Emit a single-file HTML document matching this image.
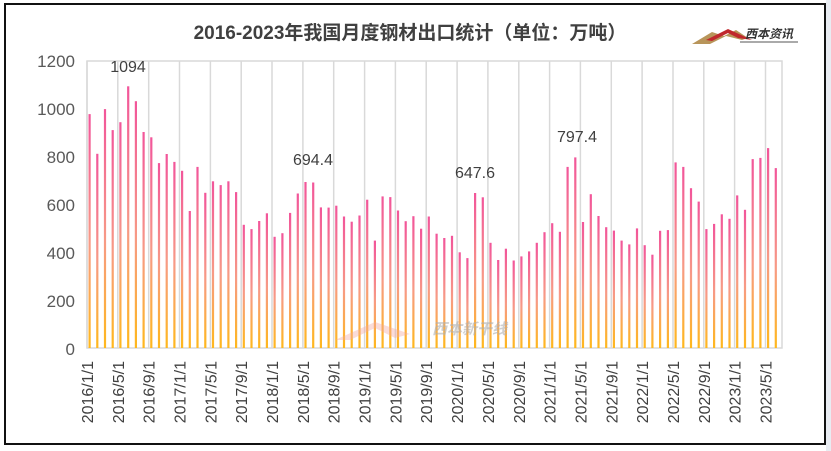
<!DOCTYPE html>
<html><head><meta charset="utf-8"><style>
html,body{margin:0;padding:0;background:#fff;}
svg{display:block;}
</style></head><body>
<svg width="831" height="451" viewBox="0 0 831 451" xmlns="http://www.w3.org/2000/svg" font-family="Liberation Sans, Noto Sans CJK SC, sans-serif">
<defs>
<linearGradient id="g" x1="0" y1="0" x2="0" y2="1">
<stop offset="0" stop-color="#f2559a"/>
<stop offset="0.55" stop-color="#f79a86"/>
<stop offset="1" stop-color="#ffb81c"/>
</linearGradient>
</defs>
<rect x="0" y="0" width="831" height="451" fill="#fff"/>
<rect x="826" y="0" width="5" height="451" fill="#e8ecf2"/>
<rect x="5" y="4" width="820" height="440" fill="#fff" stroke="#111" stroke-width="2"/>
<text x="410" y="39" text-anchor="middle" font-size="19" font-weight="bold" fill="#404040">2016-2023年我国月度钢材出口统计（单位：万吨）</text>
<g>
<polygon points="692,44 712,32 724,36 736,30 748,38 742,40 726,36 710,44" fill="#b8955a"/>
<polygon points="706,40 728,29 752,40 738,38 728,33 712,41" fill="#c0282d"/>
<text x="745" y="38" font-size="12" font-weight="bold" font-style="italic" fill="#333">西本资讯</text>
<line x1="740" y1="42" x2="798" y2="42" stroke="#555" stroke-width="1"/>
</g>
<g stroke="#d9d9d9" stroke-width="1.5">
<line x1="87" y1="61" x2="87" y2="348"/><line x1="117.8" y1="61" x2="117.8" y2="348"/><line x1="148.7" y1="61" x2="148.7" y2="348"/><line x1="179.5" y1="61" x2="179.5" y2="348"/><line x1="210.4" y1="61" x2="210.4" y2="348"/><line x1="241.2" y1="61" x2="241.2" y2="348"/><line x1="272" y1="61" x2="272" y2="348"/><line x1="302.9" y1="61" x2="302.9" y2="348"/><line x1="333.7" y1="61" x2="333.7" y2="348"/><line x1="364.6" y1="61" x2="364.6" y2="348"/><line x1="395.4" y1="61" x2="395.4" y2="348"/><line x1="426.2" y1="61" x2="426.2" y2="348"/><line x1="457.1" y1="61" x2="457.1" y2="348"/><line x1="487.9" y1="61" x2="487.9" y2="348"/><line x1="518.8" y1="61" x2="518.8" y2="348"/><line x1="549.6" y1="61" x2="549.6" y2="348"/><line x1="580.4" y1="61" x2="580.4" y2="348"/><line x1="611.3" y1="61" x2="611.3" y2="348"/><line x1="642.1" y1="61" x2="642.1" y2="348"/><line x1="673" y1="61" x2="673" y2="348"/><line x1="703.8" y1="61" x2="703.8" y2="348"/><line x1="734.6" y1="61" x2="734.6" y2="348"/><line x1="765.5" y1="61" x2="765.5" y2="348"/>
<rect x="87" y="61" width="695" height="287" fill="none"/>
</g>
<g fill="url(#g)">
<rect x="88.5" y="114.1" width="2.2" height="233.9"/>
<rect x="96.2" y="153.8" width="2.2" height="194.2"/>
<rect x="103.9" y="109.1" width="2.2" height="238.9"/>
<rect x="111.6" y="130.1" width="2.2" height="217.9"/>
<rect x="119.3" y="122.2" width="2.2" height="225.8"/>
<rect x="127.1" y="86.3" width="2.2" height="261.7"/>
<rect x="134.8" y="101.2" width="2.2" height="246.8"/>
<rect x="142.5" y="132" width="2.2" height="216"/>
<rect x="150.2" y="137.3" width="2.2" height="210.7"/>
<rect x="157.9" y="163.1" width="2.2" height="184.9"/>
<rect x="165.6" y="154" width="2.2" height="194"/>
<rect x="173.3" y="161.9" width="2.2" height="186.1"/>
<rect x="181" y="170.8" width="2.2" height="177.2"/>
<rect x="188.7" y="211" width="2.2" height="137"/>
<rect x="196.4" y="166.9" width="2.2" height="181.1"/>
<rect x="204.2" y="192.8" width="2.2" height="155.2"/>
<rect x="211.9" y="181.3" width="2.2" height="166.7"/>
<rect x="219.6" y="185.1" width="2.2" height="162.9"/>
<rect x="227.3" y="181.3" width="2.2" height="166.7"/>
<rect x="235" y="192.1" width="2.2" height="155.9"/>
<rect x="242.7" y="224.8" width="2.2" height="123.2"/>
<rect x="250.4" y="229.1" width="2.2" height="118.9"/>
<rect x="258.1" y="221" width="2.2" height="127"/>
<rect x="265.8" y="213.3" width="2.2" height="134.7"/>
<rect x="273.5" y="236.8" width="2.2" height="111.2"/>
<rect x="281.3" y="233.2" width="2.2" height="114.8"/>
<rect x="289" y="212.9" width="2.2" height="135.1"/>
<rect x="296.7" y="193.5" width="2.2" height="154.5"/>
<rect x="304.4" y="182" width="2.2" height="166"/>
<rect x="312.1" y="182.5" width="2.2" height="165.5"/>
<rect x="319.8" y="207.4" width="2.2" height="140.6"/>
<rect x="327.5" y="207.6" width="2.2" height="140.4"/>
<rect x="335.2" y="205.7" width="2.2" height="142.3"/>
<rect x="342.9" y="216.5" width="2.2" height="131.5"/>
<rect x="350.6" y="221.7" width="2.2" height="126.3"/>
<rect x="358.4" y="215.5" width="2.2" height="132.5"/>
<rect x="366.1" y="199.7" width="2.2" height="148.3"/>
<rect x="373.8" y="240.6" width="2.2" height="107.4"/>
<rect x="381.5" y="196.4" width="2.2" height="151.6"/>
<rect x="389.2" y="197.1" width="2.2" height="150.9"/>
<rect x="396.9" y="210.5" width="2.2" height="137.5"/>
<rect x="404.6" y="221.2" width="2.2" height="126.8"/>
<rect x="412.3" y="216.2" width="2.2" height="131.8"/>
<rect x="420" y="228.7" width="2.2" height="119.3"/>
<rect x="427.7" y="216.5" width="2.2" height="131.5"/>
<rect x="435.5" y="233.7" width="2.2" height="114.3"/>
<rect x="443.2" y="238" width="2.2" height="110"/>
<rect x="450.9" y="235.8" width="2.2" height="112.2"/>
<rect x="458.6" y="252.3" width="2.2" height="95.7"/>
<rect x="466.3" y="258.1" width="2.2" height="89.9"/>
<rect x="474" y="193" width="2.2" height="155"/>
<rect x="481.7" y="197.3" width="2.2" height="150.7"/>
<rect x="489.4" y="242.8" width="2.2" height="105.2"/>
<rect x="497.1" y="260" width="2.2" height="88"/>
<rect x="504.8" y="248.7" width="2.2" height="99.3"/>
<rect x="512.6" y="260.5" width="2.2" height="87.5"/>
<rect x="520.3" y="256.4" width="2.2" height="91.6"/>
<rect x="528" y="251.4" width="2.2" height="96.6"/>
<rect x="535.7" y="242.8" width="2.2" height="105.2"/>
<rect x="543.4" y="232.2" width="2.2" height="115.8"/>
<rect x="551.1" y="223.2" width="2.2" height="124.8"/>
<rect x="558.8" y="231.8" width="2.2" height="116.2"/>
<rect x="566.5" y="166.9" width="2.2" height="181.1"/>
<rect x="574.2" y="157.4" width="2.2" height="190.6"/>
<rect x="581.9" y="222" width="2.2" height="126"/>
<rect x="589.7" y="194.2" width="2.2" height="153.8"/>
<rect x="597.4" y="216" width="2.2" height="132"/>
<rect x="605.1" y="227.2" width="2.2" height="120.8"/>
<rect x="612.8" y="230.6" width="2.2" height="117.4"/>
<rect x="620.5" y="240.6" width="2.2" height="107.4"/>
<rect x="628.2" y="244.4" width="2.2" height="103.6"/>
<rect x="635.9" y="228.4" width="2.2" height="119.6"/>
<rect x="643.6" y="245.2" width="2.2" height="102.8"/>
<rect x="651.3" y="254.7" width="2.2" height="93.3"/>
<rect x="659" y="230.8" width="2.2" height="117.2"/>
<rect x="666.8" y="230.1" width="2.2" height="117.9"/>
<rect x="674.5" y="162.4" width="2.2" height="185.6"/>
<rect x="682.2" y="166.9" width="2.2" height="181.1"/>
<rect x="689.9" y="188.2" width="2.2" height="159.8"/>
<rect x="697.6" y="201.6" width="2.2" height="146.4"/>
<rect x="705.3" y="229.1" width="2.2" height="118.9"/>
<rect x="713" y="223.9" width="2.2" height="124.1"/>
<rect x="720.7" y="214.3" width="2.2" height="133.7"/>
<rect x="728.4" y="218.8" width="2.2" height="129.2"/>
<rect x="736.1" y="195.4" width="2.2" height="152.6"/>
<rect x="743.9" y="209.8" width="2.2" height="138.2"/>
<rect x="751.6" y="159.1" width="2.2" height="188.9"/>
<rect x="759.3" y="157.9" width="2.2" height="190.1"/>
<rect x="767" y="148.1" width="2.2" height="199.9"/>
<rect x="774.7" y="168.1" width="2.2" height="179.9"/>
</g>
<g font-size="17" fill="#595959" text-anchor="end">
<text x="75" y="67">1200</text><text x="75" y="115">1000</text><text x="75" y="163">800</text>
<text x="75" y="211">600</text><text x="75" y="259">400</text><text x="75" y="307">200</text><text x="75" y="355">0</text>
</g>
<g font-size="16" fill="#404040" text-anchor="middle">
<text x="128" y="72">1094</text><text x="313" y="165">694.4</text><text x="475" y="178">647.6</text><text x="577" y="142">797.4</text>
</g>
<text x="432" y="334" font-size="15" font-weight="bold" font-style="italic" fill="#b0b0b0" opacity="0.6">西本新干线</text>
<polygon points="335,340 375,322 410,334 395,338 375,328 350,340" fill="#f2a7a0" opacity="0.4"/>
<g font-size="16" fill="#404040" text-anchor="end">
<text transform="translate(93,361) rotate(-90)">2016/1/1</text>
<text transform="translate(123.8,361) rotate(-90)">2016/5/1</text>
<text transform="translate(154.7,361) rotate(-90)">2016/9/1</text>
<text transform="translate(185.5,361) rotate(-90)">2017/1/1</text>
<text transform="translate(216.4,361) rotate(-90)">2017/5/1</text>
<text transform="translate(247.2,361) rotate(-90)">2017/9/1</text>
<text transform="translate(278,361) rotate(-90)">2018/1/1</text>
<text transform="translate(308.9,361) rotate(-90)">2018/5/1</text>
<text transform="translate(339.7,361) rotate(-90)">2018/9/1</text>
<text transform="translate(370.6,361) rotate(-90)">2019/1/1</text>
<text transform="translate(401.4,361) rotate(-90)">2019/5/1</text>
<text transform="translate(432.2,361) rotate(-90)">2019/9/1</text>
<text transform="translate(463.1,361) rotate(-90)">2020/1/1</text>
<text transform="translate(493.9,361) rotate(-90)">2020/5/1</text>
<text transform="translate(524.8,361) rotate(-90)">2020/9/1</text>
<text transform="translate(555.6,361) rotate(-90)">2021/1/1</text>
<text transform="translate(586.4,361) rotate(-90)">2021/5/1</text>
<text transform="translate(617.3,361) rotate(-90)">2021/9/1</text>
<text transform="translate(648.1,361) rotate(-90)">2022/1/1</text>
<text transform="translate(679,361) rotate(-90)">2022/5/1</text>
<text transform="translate(709.8,361) rotate(-90)">2022/9/1</text>
<text transform="translate(740.6,361) rotate(-90)">2023/1/1</text>
<text transform="translate(771.5,361) rotate(-90)">2023/5/1</text>
</g>
</svg>
</body></html>
